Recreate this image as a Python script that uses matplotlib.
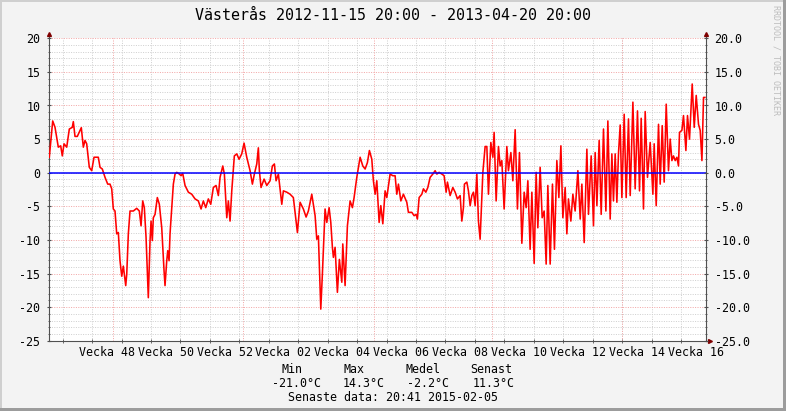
import datetime as dt
import matplotlib
matplotlib.use("Agg")
import matplotlib.pyplot as plt
import matplotlib.dates as mdates
from matplotlib.patches import Rectangle
from matplotlib.ticker import MultipleLocator, FormatStrFormatter
import numpy as np

# Period som visas
start = dt.datetime(2012, 11, 15, 20, 0)
stop = dt.datetime(2013, 4, 20, 20, 0)

# Dagar efter start och temperatur (°C)
dagar = [
    0.00, 0.81, 1.36, 2.14, 2.71, 3.09, 3.50, 4.14, 4.76, 5.47,
    5.71, 6.11, 6.66, 7.30, 7.61, 8.09, 8.49, 8.89, 9.51, 10.08,
    10.63, 11.65, 12.06, 12.60, 13.25, 13.89, 14.43, 14.84, 15.22, 15.62,
    16.03, 16.41, 16.81, 17.22, 17.60, 18.17, 18.41, 18.79, 19.19, 19.98,
    20.78, 21.40, 21.81, 22.21, 22.59, 23.00, 23.54, 23.95, 24.19, 24.49,
    24.73, 25.14, 25.68, 26.16, 26.73, 27.28, 27.51, 27.92, 28.16, 28.47,
    28.70, 29.11, 29.49, 29.89, 30.30, 30.92, 31.32, 31.72, 32.27, 33.06,
    33.86, 34.65, 35.43, 36.08, 36.62, 37.19, 37.81, 38.38, 39.00, 39.64,
    40.19, 40.59, 41.24, 41.62, 42.19, 42.57, 42.97, 43.38, 43.99, 44.57,
    45.11, 45.75, 46.30, 46.94, 47.73, 48.28, 48.75, 49.32, 49.70, 49.94,
    50.34, 51.06, 51.70, 52.48, 53.03, 53.51, 53.91, 54.46, 55.27, 55.65,
    56.46, 57.24, 58.02, 58.43, 58.98, 59.62, 60.40, 61.05, 61.59, 62.40,
    63.19, 63.59, 63.97, 64.54, 64.92, 65.56, 65.97, 66.52, 66.92, 67.30,
    67.54, 67.94, 68.49, 68.96, 69.54, 69.77, 70.32, 70.87, 71.51, 72.06,
    72.46, 73.10, 73.89, 74.53, 75.08, 75.62, 76.10, 76.67, 77.05, 77.46,
    77.86, 78.41, 78.81, 79.29, 79.83, 80.24, 81.02, 81.66, 82.21, 82.61,
    83.00, 83.57, 84.18, 84.99, 85.37, 86.18, 86.73, 87.20, 87.51, 87.92,
    88.56, 88.94, 89.51, 89.99, 90.53, 91.18, 91.72, 92.13, 92.67, 93.32,
    93.86, 94.34, 94.65, 95.29, 95.93, 96.48, 97.03, 97.67, 98.07, 98.45,
    98.69, 99.26, 99.64, 100.05, 100.45, 100.83, 101.24, 101.64, 102.02, 102.42,
    103.07, 103.61, 104.02, 104.40, 104.97, 105.45, 105.75, 106.23, 106.78, 107.18,
    107.58, 108.13, 108.77, 109.15, 109.73, 110.20, 110.75, 111.29, 111.77, 112.34,
    112.89, 113.36, 113.77, 114.31, 114.72, 115.27, 115.74, 116.14, 116.69, 117.17,
    117.64, 118.12, 118.52, 119.07, 119.62, 120.09, 120.66, 121.14, 121.62, 122.09,
    122.64, 123.04, 123.42, 123.99, 124.47, 125.01, 125.66, 126.21, 126.61, 127.16,
    127.80, 128.18, 128.82, 129.37, 129.77, 130.18, 130.72, 131.20, 131.75, 132.32,
    132.79, 133.34, 133.74, 134.12, 134.53, 134.93, 135.31, 135.72, 136.12, 136.67,
    137.14, 137.69, 138.10, 138.74, 139.28, 139.83, 140.31, 140.71, 141.26, 141.66,
    142.21, 142.85, 143.49, 143.80, 144.28, 144.83, 145.23, 145.71, 146.18, 146.66,
    147.20, 147.61, 148.01, 148.39, 148.80, 149.20, 149.58, 149.82, 150.39, 150.77,
    151.34, 151.72, 152.20, 152.84, 153.32, 153.79, 154.34, 154.74, 155.15, 155.53,
    155.86,
]
temp = [
    2.3, 7.7, 6.75, 3.8, 4.0, 2.5, 4.3, 3.8, 6.5, 6.75,
    7.6, 5.4, 5.4, 6.3, 6.7, 3.8, 4.8, 4.3, 0.8, 0.3,
    2.3, 2.3, 0.8, 0.55, -0.7, -1.7, -1.7, -2.4, -5.4, -5.7,
    -9.1, -8.9, -13.1, -15.4, -13.9, -16.8, -15.1, -9.1, -5.7, -5.7,
    -5.3, -5.7, -7.9, -4.2, -5.2, -9.6, -18.6, -10.1, -7.2, -10.1,
    -6.7, -6.2, -3.7, -4.7, -8.2, -14.6, -16.8, -13.1, -11.6, -13.1,
    -9.1, -5.2, -1.7, -0.2, 0.05, -0.2, -0.45, -0.1, -1.9, -2.9,
    -3.2, -3.9, -4.2, -5.4, -4.2, -5.2, -3.9, -4.7, -2.2, -1.9,
    -3.4, -0.7, 1.0, -0.2, -6.7, -4.2, -7.2, -2.7, 2.5, 2.8,
    2.0, 2.8, 4.4, 2.3, 0.3, -1.7, -0.2, 1.3, 3.7, 0.3,
    -2.2, -0.95, -1.9, -1.2, 1.0, 1.3, -1.2, -0.2, -4.7, -2.7,
    -2.9, -3.2, -3.7, -5.9, -8.9, -4.4, -5.4, -6.6, -5.7, -3.2,
    -6.4, -9.9, -9.4, -20.3, -15.1, -5.4, -7.4, -5.2, -7.4, -11.1,
    -12.6, -11.1, -17.8, -12.9, -16.3, -10.6, -16.8, -7.9, -4.2, -5.2,
    -3.7, -0.7, 2.3, 1.0, 0.55, 1.5, 3.3, 2.0, -1.2, -3.2,
    -1.2, -7.4, -4.9, -7.6, -2.7, -3.7, -0.2, -0.45, -0.45, -3.2,
    -1.7, -4.2, -3.2, -4.4, -5.9, -5.9, -6.4, -6.2, -6.9, -3.7,
    -3.2, -2.4, -2.9, -2.2, -0.7, -0.2, 0.3, -0.2, 0.05, -0.2,
    -0.45, -2.9, -1.4, -3.4, -2.2, -2.9, -3.9, -3.4, -7.2, -5.2,
    -1.7, -1.4, -2.7, -4.9, -3.4, -2.9, -4.9, -0.2, -7.2, -9.9,
    0.05, 3.9, 3.9, -3.2, 4.5, 2.3, 6.0, -4.2, 3.9, 1.0,
    1.8, -5.4, 3.9, 0.3, 3.0, -1.2, 6.4, -5.4, 3.0, -10.5,
    -2.9, -5.2, -1.2, -11.4, -2.9, -13.5, 0.05, -8.2, 0.8, -6.7,
    -5.7, -13.6, -1.9, -13.6, -1.7, -11.4, 1.8, -3.7, 4.0, -6.7,
    -2.2, -9.1, -3.9, -7.2, -3.2, -5.7, 0.3, -6.9, -1.7, -10.4,
    3.5, -6.2, 2.5, -7.9, 3.0, -4.9, 4.8, -6.2, 6.5, -5.7,
    7.7, -6.9, 2.8, -4.2, 2.8, -4.4, 2.8, 7.1, -3.7, 8.7,
    -3.7, 8.0, -3.4, 10.5, -2.4, 9.2, -2.7, 8.1, -5.4, 9.1,
    -0.7, 4.5, -3.2, 4.3, -4.9, 7.2, -1.7, 7.0, -1.4, 10.2,
    0.3, 5.0, 1.8, 2.5, 1.8, 2.3, 1.0, 6.0, 6.3, 8.5,
    3.3, 8.5, 5.0, 13.2, 6.75, 11.5, 7.2, 6.3, 1.8, 11.2,
    11.2,
]

# Veckor som får etikett (år, vecka)
veckor = [(2012, 48), (2012, 50), (2012, 52), (2013, 2), (2013, 4), (2013, 6),
          (2013, 8), (2013, 10), (2013, 12), (2013, 14), (2013, 16)]

legend_rubrik = ["Min", "Max", "Medel", "Senast"]
legend_varden = ["-21.0°C", "14.3°C", "-2.2°C", "11.3°C"]
senaste = "Senaste data: 20:41 2015-02-05"
titel = "Västerås 2012-11-15 20:00 - 2013-04-20 20:00"

W, H = 786, 411
mono = "DejaVu Sans Mono"
plt.rcParams["font.family"] = mono

fig = plt.figure(figsize=(W / 100, H / 100), dpi=100, facecolor="#f3f3f3")


def fx(x):
    return x / W


def fy(y):
    return 1 - y / H


# ram runt bilden
fig.add_artist(Rectangle((0, fy(2)), 1, 2 / H, transform=fig.transFigure, color="#cfcfcf", lw=0))
fig.add_artist(Rectangle((0, 0), 2 / W, 1, transform=fig.transFigure, color="#cfcfcf", lw=0))
fig.add_artist(Rectangle((0, 0), 1, 3 / H, transform=fig.transFigure, color="#9c9c9c", lw=0))
fig.add_artist(Rectangle((1 - 3 / W, 0), 3 / W, 1, transform=fig.transFigure, color="#9c9c9c", lw=0))

ax = fig.add_axes([fx(49.3), fy(340.7), (705.5 - 49.3) / W, 302.4 / H])
ax.set_facecolor("white")

t0 = mdates.date2num(start)
x = t0 + np.array(dagar)

ax.plot(x, temp, color="#ff0000", lw=1.15, zorder=3)
ax.axhline(0, color="#0000ff", lw=1.1, zorder=4)

ax.set_xlim(t0, mdates.date2num(stop))
ax.set_ylim(-25, 20)

axis_col = "#505050"
grid_col = "#d0d0d0"
mgrid_col = "#f2a8a8"
dots = (0, (1, 1.4))

# y-rutnät
ax.yaxis.set_major_locator(MultipleLocator(5))
ax.yaxis.set_minor_locator(MultipleLocator(1))
ax.yaxis.set_major_formatter(FormatStrFormatter("%d"))
ax.grid(which="minor", axis="y", color=grid_col, lw=0.72, ls=dots)
ax.grid(which="major", axis="y", color=mgrid_col, lw=0.72, ls=dots)

# x-rutnät: måndagar grå, månadsskiften röda
ax.xaxis.set_minor_locator(mdates.WeekdayLocator(byweekday=mdates.MO))
ax.grid(which="minor", axis="x", color=grid_col, lw=0.72, ls=dots)
for m in [(2012, 12), (2013, 1), (2013, 2), (2013, 3), (2013, 4)]:
    ax.axvline(mdates.date2num(dt.datetime(m[0], m[1], 1)), color=mgrid_col, lw=0.72, ls=dots, zorder=1)
ax.set_axisbelow(True)

lab_pos = [mdates.date2num(dt.datetime.combine(dt.date.fromisocalendar(y, w, 1), dt.time())) + 3.5
           for y, w in veckor]
ax.set_xticks(lab_pos)
ax.set_xticklabels(["Vecka %02d" % w for y, w in veckor])

ax.tick_params(axis="x", which="major", length=0, pad=4, labelsize=8.4)
ax.tick_params(axis="x", which="minor", length=2.5, direction="inout", color=axis_col)
ax.tick_params(axis="y", which="major", length=3, direction="inout", color=axis_col, pad=5, labelsize=8.4)
ax.tick_params(axis="y", which="minor", length=2, direction="inout", color=axis_col)

for s in ["top", "right"]:
    ax.spines[s].set_visible(False)
for s in ["left", "bottom"]:
    ax.spines[s].set_color(axis_col)
    ax.spines[s].set_linewidth(0.8)

# höger y-axel
ax2 = ax.twinx()
ax2.set_ylim(-25, 20)
ax2.yaxis.set_major_locator(MultipleLocator(5))
ax2.yaxis.set_minor_locator(MultipleLocator(1))
ax2.yaxis.set_major_formatter(FormatStrFormatter("%.1f"))
ax2.tick_params(axis="y", which="major", length=3, direction="inout", color=axis_col, pad=5, labelsize=8.4)
ax2.tick_params(axis="y", which="minor", length=2, direction="inout", color=axis_col)
for s in ["top", "left", "bottom"]:
    ax2.spines[s].set_visible(False)
ax2.spines["right"].set_color(axis_col)
ax2.spines["right"].set_linewidth(0.8)

# pilar på axlarna
arrow_col = "#7f0000"
dy = 4 / 302.4
dx = 4 / 656.2
for xa in [0, 1]:
    ax.plot([xa, xa], [1, 1 + dy], color=axis_col, lw=0.8, transform=ax.transAxes, clip_on=False)
    ax.plot([xa], [1 + dy], marker="^", ms=2.8, color=arrow_col, transform=ax.transAxes, clip_on=False)
ax.plot([1, 1 + dx], [0, 0], color=axis_col, lw=0.8, transform=ax.transAxes, clip_on=False)
ax.plot([1 + dx], [0], marker=">", ms=2.8, color=arrow_col, transform=ax.transAxes, clip_on=False)

# texter
fig.text(0.5, fy(16), titel, ha="center", va="center", fontsize=10.8, color="black")
fig.text(fx(776), fy(5), "RRDTOOL / TOBI OETIKER", rotation=270, ha="center", va="top",
         fontsize=6, color="#bdbdbd")

rub_x = [281, 343, 406, 470]
val_x = [272, 343, 407, 473]
for r, v, xr, xv in zip(legend_rubrik, legend_varden, rub_x, val_x):
    fig.text(fx(xr), fy(369), r, ha="left", va="center", fontsize=8.4)
    fig.text(fx(xv), fy(383), v, ha="left", va="center", fontsize=8.4)
fig.text(fx(393), fy(397), senaste, ha="center", va="center", fontsize=8.4)

fig.savefig("out.png", dpi=100, facecolor=fig.get_facecolor())
